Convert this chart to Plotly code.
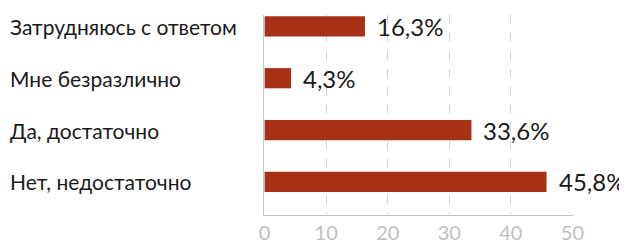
import plotly.graph_objects as go

categories = ["Затрудняюсь с ответом", "Мне безразлично", "Да, достаточно", "Нет, недостаточно"]
values = [16.3, 4.3, 33.6, 45.8]
value_labels = ["16,3%", "4,3%", "33,6%", "45,8%"]
x_ticks = [0, 10, 20, 30, 40, 50]

BAR = "#a63115"
FONT = "Lato"

fig = go.Figure()
fig.add_trace(go.Bar(
    x=values, y=categories, orientation="h",
    marker=dict(color=BAR, line=dict(width=0)),
    width=0.39, hoverinfo="skip",
))

# page body has an 8px default margin; figure is sized to fit the window
W, H = 619, 243
L, R, T, B = 256, 54, 7, 26
pw = W - L - R

annotations = []
for c, v, lab in zip(categories, values, value_labels):
    annotations.append(dict(x=v, y=c, xref="x", yref="y", text=lab, showarrow=False,
                            xanchor="left", yanchor="middle", xshift=10,
                            font=dict(family=FONT, size=24, color="#1a1a1a")))
    annotations.append(dict(x=(0 - L) / pw, y=c, xref="paper", yref="y", text=c,
                            showarrow=False, xanchor="left", yanchor="middle",
                            font=dict(family=FONT, size=21, color="#1a1a1a")))

fig.update_layout(
    width=W, height=H, margin=dict(l=L, r=R, t=T, b=B),
    paper_bgcolor="white", plot_bgcolor="white",
    showlegend=False, annotations=annotations,
    xaxis=dict(range=[-0.1, 50.1], tickvals=x_ticks, ticktext=[str(t) for t in x_ticks],
               showgrid=True, gridcolor="#d4d4d4", griddash="dash", gridwidth=1,
               zeroline=False, showline=True, linecolor="#c4c4c4", linewidth=1,
               tickfont=dict(family=FONT, size=20, color="#c0c0c0"), ticks=""),
    yaxis=dict(categoryorder="array", categoryarray=categories, range=[3.64, -0.22],
               showticklabels=False, showgrid=False, zeroline=False,
               showline=True, linecolor="#c4c4c4", linewidth=1, ticks=""),
)

fig.write_html("out.html")
